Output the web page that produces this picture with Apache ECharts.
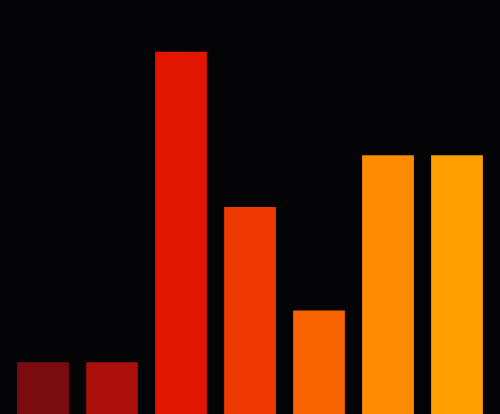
<!DOCTYPE html>
<html>
<head>
<meta charset="utf-8">
<script src="https://cdn.jsdelivr.net/npm/echarts@6/dist/echarts.min.js"></script>
<style>
  html, body { margin: 0; padding: 0; background: #040306; }
  #main { width: 500px; height: 414px; }
</style>
</head>
<body>
<div id="main"></div>
<script>
  // 数据
  var categories = ['A', 'B', 'C', 'D', 'E', 'F', 'G'];
  var values = [1, 1, 7, 4, 2, 5, 5];
  var colors = ['#7a0c10', '#aa0f0a', '#e11500', '#ee3a00', '#f76400', '#ff8c00', '#ffa000'];

  var chart = echarts.init(document.getElementById('main'));
  var option = {
    backgroundColor: '#040306',
    animation: false,
    grid: { left: 8.5, right: 8.5, top: 0, bottom: 0 },
    xAxis: {
      type: 'category',
      data: categories,
      show: false
    },
    yAxis: {
      type: 'value',
      min: 0,
      max: 8,
      show: false
    },
    series: [{
      type: 'bar',
      barCategoryGap: '25%',
      data: values.map(function (v, i) {
        return { value: v, itemStyle: { color: colors[i] } };
      })
    }]
  };
  chart.setOption(option);
  window.addEventListener('resize', function () { chart.resize(); });
</script>
</body>
</html>
